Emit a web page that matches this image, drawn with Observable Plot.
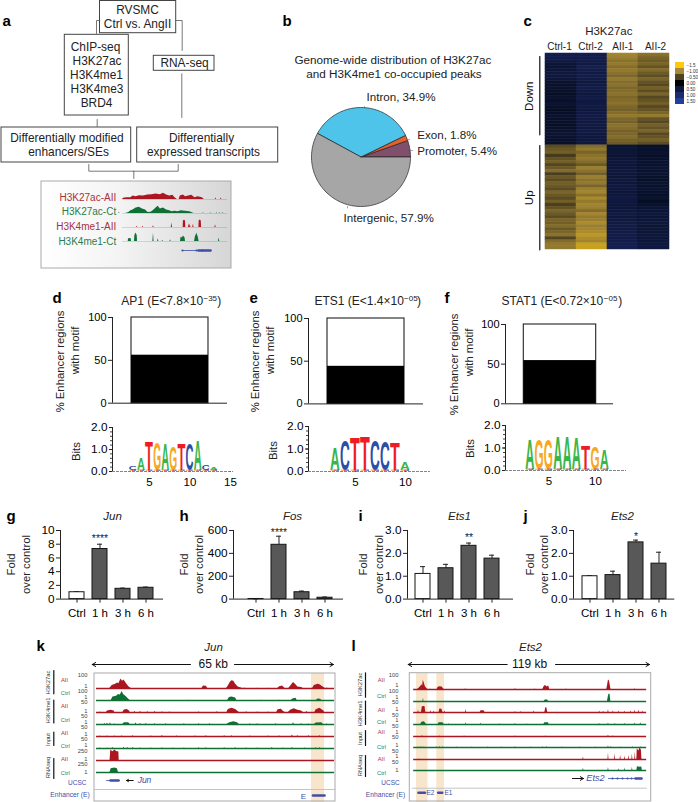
<!DOCTYPE html>
<html><head><meta charset="utf-8">
<script src="https://cdn.jsdelivr.net/npm/d3@7"></script>
<script src="https://cdn.jsdelivr.net/npm/@observablehq/plot@0.6"></script>
<style>
html,body{margin:0;padding:0;background:#fff}
#root{position:relative;width:698px;height:802px;overflow:hidden;font-family:"Liberation Sans",Arial,sans-serif}
#root svg{position:absolute;overflow:visible;background:transparent}
#grayBox{position:absolute;left:41px;top:181px;width:190px;height:87px;background:linear-gradient(90deg,#fff 0%,#f4f4f4 40%,#d6d6d6 100%)}
</style></head><body><div id="root"><div id="grayBox"></div></div>
<script>
// ---------- panel b
const pieNames = ["Promoter","Exon","Intron","Intergenic"];
const pieValues = [5.4,1.8,34.9,57.9];
const pieColors = ["#7f4f6b","#e4622f","#4fc4ea","#a6a6a6"];
// ---------- panel c
const heatCols = ["Ctrl-1","Ctrl-2","AII-1","AII-2"];
const ctrl1 = [.85,.8,.75,.55,.48,.52,.64,.6,.55,.44,.4,.44,.4,.36,.44,.4,.48,.4,.36,.4,.44,.4,.4,.36,.4,.44,.48,.44,.4,.4,
 -.6,-.7,-.75,-.45,-.65,-.75,-.55,-.7,-.85,-.5,-.7,-.6,-.75,-.7,-.6,-.8,-.7,-.6,-.75,-.5,-.65,-.8,-.7,-.6,-.8,-.75,-.85,-.7,-.8,-.9,-.55,-.85,-.95,-.95];
const ctrl2 = [.85,.82,.78,.68,.85,.76,.68,.76,.72,.64,.68,.76,.68,.64,.72,.68,.68,.72,.64,.68,.72,.68,.64,.68,.64,.68,.64,.64,.6,.64,
 -.85,-.95,-.8,-.9,-.95,-.85,-.7,-1,-.9,-.75,-1,-.9,-.95,-.8,-1,-1.05,-.9,-1.1,-.95,-1.05,-1,-.85,-1.05,-.95,-1,-1.1,-1,-1.05,-1.1,-1.2,-1.1,-1.05,-1.27,-1.27];
const aii1 = [-1.05,-1,-.9,-.95,-.86,-.95,-.9,-.81,-.95,-.86,-.9,-.81,-.86,-.9,-.81,-.86,-.9,-.81,-.77,-.86,-.95,-.81,-.77,-.9,-.86,-.77,-.81,-.86,-.77,-.72,
 .48,.52,.56,.48,.56,.6,.52,.56,.6,.56,.52,.6,.56,.64,.6,.56,.64,.68,.64,.6,.56,.64,.68,.6,.64,.68,.72,.68,.72,.76,.72,.8,.85,.85];
const aii2 = [-.9,-.8,-.72,-.8,-.66,-.85,-.72,-.62,-.8,-.66,-.58,-.76,-.62,-.8,-.58,-.66,-.76,-.58,-.66,-.8,-.95,-.66,-.58,-.76,-.66,-.8,-.58,-.66,-.76,-.62,
 .38,.42,.47,.38,.42,.47,.42,.47,.42,.47,.42,.38,.47,.42,.47,.42,.38,.47,.34,.42,.5,.55,.6,.5,.55,.6,.5,.55,.5,.6,.55,.6,.64,.64];
const heatStops = [-1.5,-1,-.5,0,.5,1,1.5];
const heatColors = ["#ffc90e","#a68a35","#4f4320","#000000","#0e1a42","#1f2b69","#22409a"];
const cellColors = ["#f0bd10","#9a7f30","#4a3e1e","#000000","#0b1534","#19235a","#22409a"];
const heatLabels = ["−1.5","−1.00","−0.50","0.00","0.50","1.00","1.50"];
// ---------- panels d e f
const motifShare = {ap1:56, ets1:44, stat1:54.5};
// each motif: [position, letter, bits]
const ap1Logo = [[3,"C",.17],[4,"A",.55],[5,"T",1.3],[6,"G",1.25],[7,"A",1.2],[8,"G",1.05],[9,"T",1.15],[10,"C",1.2],[11,"A",1.35],[12,"C",.22],[13,"A",.1]];
const ets1Logo = [[3,"A",.95],[4,"C",1.35],[5,"T",1.45],[6,"T",1.5],[7,"C",1.3],[8,"C",1.25],[9,"T",1.2],[10,"A",.35]];
const stat1Logo = [[3,"A",1.3],[4,"G",1.35],[5,"G",1.3],[6,"A",1.45],[7,"A",1.45],[8,"A",1.4],[9,"T",1.05],[10,"G",.95],[11,"A",.85]];
const letterColor = {A:"#39b54a",C:"#2b4ea6",G:"#f7a823",T:"#ee1c25"};
// ---------- panels g h i j
const times = ["Ctrl","1 h","3 h","6 h"];
const junVals = [1,7.3,1.5,1.65], junHi = [1.1,8,1.6,1.75];
const fosVals = [1,475,60,12], fosHi = [2,550,70,18];
const ets1Vals = [1.1,1.35,2.33,1.77], ets1Hi = [1.42,1.52,2.45,1.92];
const ets2Vals = [1,1.05,2.48,1.55], ets2Hi = [1.03,1.22,2.58,2.05];
// ---------- browser tracks: broad peaks are [pos,signal] outlines, spikes are [pos,signal]
const red="#ab1620", green="#0f7036";
const aTracks = [
 {c:red, peaks:[[[0,0],[1,10],[4,14],[8,14],[10,30],[13,22],[16,32],[20,30],[24,38],[28,40],[32,45],[36,40],[39,52],[42,38],[45,30],[48,36],[50,14],[52,3]],[[54,0],[55,30],[58,38],[60,22],[63,30],[66,36],[69,14],[72,22],[76,14],[78,0]]], spikes:[[89,14],[94,14]]},
 {c:green, peaks:[[[3,0],[6,8],[8,22],[10,30],[13,45],[16,52],[19,38],[22,30],[24,11],[26,8],[28,15],[30,30],[32,45],[34,60],[36,38],[39,45],[42,30],[45,22],[47,15],[50,18],[53,15],[56,22],[60,18],[64,15],[66,8],[68,0]]], spikes:[[-3,8],[77,7],[84,7],[90,7],[93,7],[96,7]]},
 {c:red, peaks:[[[57.8,0],[58,55],[59,60],[60,55],[60.3,0]],[[72.8,0],[73,55],[74,62],[75,55],[75.3,0]]], spikes:[[14,10],[19.5,10],[29.5,15],[47,38],[63.5,30],[64.5,30],[67.5,28],[88.6,22]]},
 {c:green, peaks:[[[5.4,0],[5.8,22],[8.2,24],[8.6,0]],[[11.4,0],[11.8,50],[12.8,70],[14,50],[14.3,0]],[[55.2,0],[55.8,35],[57,30],[58,45],[59.6,30],[60,0]],[[68.6,0],[69.5,40],[70.8,68],[72,40],[73,0]]], spikes:[[29.5,68],[34,22],[38.3,10],[45.8,14],[92,30]]}
];
const kPeaks = [
 {c:red, peaks:[[[3.6,0],[4.3,25],[5.2,35],[5.8,45],[6.1,40],[6.7,80],[7.1,60],[7.5,70],[8.2,40],[8.9,12],[9.5,0]],[[28.8,0],[29.2,20],[30,18],[30.4,0]],[[35.5,0],[36,20],[36.6,55],[37,65],[37.5,60],[38,35],[38.7,12],[39.5,5],[40,0]],[[49.5,0],[50,15],[50.8,20],[51.5,0]],[[52.5,0],[53,18],[53.8,50],[54.2,40],[55,12],[56,8],[56.5,0]],[[59,0],[59.5,25],[60.5,35],[61,32],[62,10],[62.5,0]]], spikes:[[40.5,4],[44,3],[47,3],[63,4]]},
 {c:green, peaks:[[[4,0],[4.5,30],[5.5,35],[6,50],[6.5,45],[7,75],[7.4,50],[8,35],[8.8,10],[9.2,0]],[[35.8,0],[36.3,25],[37,30],[38,20],[38.3,0]],[[53.2,0],[53.6,12],[54.5,18],[54.8,0]],[[60,0],[60.5,12],[61.2,10],[61.5,0]]], spikes:[[50,3],[45,3],[25,2]]},
 {c:red, peaks:[[[2.7,0],[3,12],[4,18],[4.8,12],[5,0]],[[7.2,0],[7.6,20],[8.4,25],[9,12],[9.2,0]],[[35.6,0],[36,25],[37,35],[38,25],[38.6,10],[39,0]],[[49.2,0],[49.6,22],[50.5,28],[51,10],[51.5,0]],[[52.4,0],[53,18],[54,32],[55,18],[56,12],[56.5,0]],[[59.6,0],[60,22],[61,35],[62,15],[62.3,0]]], spikes:[[1,5],[10.5,8],[12,8],[14,6],[16,8],[18,6],[20,5],[28,5],[33,7],[41,6],[44,5],[47,5],[57.5,8]]},
 {c:green, peaks:[[[35.6,0],[36.4,15],[37.5,22],[38.5,14],[39,0]],[[7.2,0],[7.6,14],[8.8,14],[9.2,0]],[[59.5,0],[60,12],[61.5,14],[62,0]]], spikes:[[2.3,8],[3,12],[3.8,14],[5,5],[10.8,14],[12,8],[13.6,8],[16,6],[19,6],[24,7],[28,6],[31,6],[42,7],[44,6],[49,6],[53.8,16],[56,6],[58,5],[63,5]]},
 {c:red, peaks:[], spikes:[[1,4],[3,5],[5,4],[7,5],[10,6],[15,4],[18,8],[22,4],[27,5],[30,7],[35,6],[37,7],[42,4],[47,5],[50,5],[53.5,12],[55,6],[58,6],[61,6]]},
 {c:green, peaks:[], spikes:[[1,4],[3,5],[4.5,8],[7.5,10],[8.5,8],[10,9],[12,4],[15,5],[18,7],[21,4],[24,5],[28,6],[30,7],[35,6],[38,7],[41,4],[44,5],[48,9],[51,5],[53.5,8],[57,4],[60,7],[61,6]]},
 {c:red, peaks:[[[3.7,0],[3.9,85],[4.5,72],[5,88],[5.6,72],[6.1,72],[6.2,0]]], spikes:[]},
 {c:green, peaks:[[[3.7,0],[4,32],[5,38],[5.7,32],[6,0]]], spikes:[]}
];
const lPeaks = [
 {c:red, peaks:[[[2,0],[3,15],[3.8,30],[4.2,40],[4.6,30],[4.9,78],[5.3,60],[6,22],[7,5],[7.3,0]],[[12,0],[12.5,18],[13.5,22],[14.5,20],[15.6,0]],[[66,0],[66.5,20],[67.4,35],[68,20],[69,30],[69.5,0]],[[98.6,0],[99,30],[99.5,80],[100,70],[100.8,0]]], spikes:[[8.5,5],[26.5,6],[52,8],[113,6],[62,3],[78,3]]},
 {c:green, peaks:[[[66.6,0],[67.2,12],[68.4,12],[69,0]],[[99,0],[99.3,30],[99.7,60],[100.3,60],[100.7,0]]], spikes:[[5,30]]},
 {c:red, peaks:[[[4,0],[4.4,45],[5,50],[5.8,50],[6.2,0]],[[13,0],[13.4,30],[14.4,28],[15,0]],[[34,0],[34.4,14],[36,14],[36.4,0]],[[67,0],[67.5,40],[68,40],[68.5,0]]], spikes:[[2.5,20],[8.8,16],[10.5,12],[16,14],[26.7,26],[52,9],[55,8],[61.5,12],[95,12],[97,10],[99.5,22],[102,15],[105,12],[108,10],[111,12],[113,20],[115,20],[117,12]]},
 {c:green, peaks:[[[3.6,0],[4.2,18],[5.5,22],[6.6,0]],[[12.5,0],[13,14],[15,14],[15.6,0]],[[66.5,0],[67,15],[68.8,15],[69.2,0]]], spikes:[[18,6],[26.7,14],[34.5,12],[44,6],[52,8],[58,5],[95,8],[99.5,12],[103,8],[108,9],[113,12],[116,14]]},
 {c:red, peaks:[], spikes:[[4.5,8],[13.5,5],[26,4],[52,4],[67.5,4],[99.5,12],[102,7]]},
 {c:green, peaks:[], spikes:[[2.5,7],[4,8],[5.5,7],[12,7],[13.5,8],[15,6],[22,5],[30,5],[38,5],[45,4],[52,6],[60,4],[66,7],[68,8],[76,5],[85,5],[93,5],[99.5,14],[101,8],[106,5],[112,6],[116,7]]},
 {c:red, peaks:[[[114,0],[114.2,90],[115,70],[115.6,95],[116.3,80],[116.6,0]]], spikes:[[3,4],[86.7,20],[99.5,55],[102.9,48],[105.7,35],[108,30],[110,35],[111.7,45],[113.2,62]]},
 {c:green, peaks:[[[114,0],[114.3,32],[115.5,28],[116.5,30],[116.8,0]]], spikes:[[86.7,20],[99.5,25],[104.9,14],[108,20],[111.7,26]]}
];
const kEnhancers = [[58.7,62.3]], lEnhancers = [[1.5,7.4],[11.9,15.8]];

const root = document.getElementById("root");
function mount(frame, opts, m={}){
  const ml=m.l??0, mr=m.r??0, mt=m.t??0, mb=m.b??0;
  const svg = Plot.plot({width:frame.x1-frame.x0+ml+mr, height:frame.y1-frame.y0+mt+mb,
    marginLeft:ml,marginRight:mr,marginTop:mt,marginBottom:mb,
    style:{fontFamily:'"Liberation Sans",Arial,sans-serif',background:"transparent",overflow:"visible"},...opts});
  svg.style.left=(frame.x0-ml)+"px"; svg.style.top=(frame.y0-mt)+"px";
  root.appendChild(svg);
  return svg;
}
function vline(x0,y0,y1){
  mount({x0,x1:x0+1,y0,y1},{x:{domain:[0,1],axis:null},y:{domain:[0,1],axis:null},
    marks:[Plot.ruleX([0],{stroke:"#222",strokeWidth:1})]});
}
function trackRows(t,w){
  const rows=[]; let seg=0;
  t.peaks.forEach(p=>{seg++; p.forEach(d=>rows.push({x:d[0],y:d[1],seg}))});
  t.spikes.forEach(s=>{seg++; [[s[0]-w,0],[s[0],s[1]],[s[0]+w,0]].forEach(d=>rows.push({x:d[0],y:d[1],seg}))});
  return rows;
}
function tracks(list,x0,x1,bases,domain,w,sw,ph,baseOpacity){
  list.forEach((t,i)=>mount({x0,x1,y0:bases[i]-ph,y1:bases[i]},{
    x:{domain,axis:null},y:{domain:[0,100],axis:null},
    marks:[Plot.areaY(trackRows(t,w),{x:"x",y:"y",z:"seg",fill:t.c}),
           Plot.ruleY([0],{stroke:t.c,strokeWidth:sw,strokeOpacity:baseOpacity})]}));
}
// backdrops (under tracks)
mount({x0:96,x1:334,y0:673,y1:802},{x:{domain:[0,65],axis:null},y:{domain:[0,1],axis:null},
  marks:[Plot.rect(kEnhancers,{x1:d=>d[0],x2:d=>d[1],y1:0,y2:1,fill:"#f8e6cc"})]});
mount({x0:412.7,x1:646,y0:673,y1:802},{x:{domain:[0,119],axis:null},y:{domain:[0,1],axis:null},
  marks:[Plot.rect(lEnhancers,{x1:d=>d[0],x2:d=>d[1],y1:0,y2:1,fill:"#f8e6cc"})]});
// panel a tracks
tracks(aTracks,121.7,226.7,[198.6,212.9,227.3,240.9],[0,100],.6,.6,12,.3);
// panels k, l tracks
tracks(kPeaks,96,334,[687.5,699.5,711.5,723.5,735.5,747.5,759.5,771.5],[0,65],.2,1.3,12,1);
tracks(lPeaks,412.7,646,[689,700.5,712,723.5,735.5,747,758.5,770],[0,119],.25,1.3,12,1);

// panel b: pie through Plot scales
{
  const pie = d3.pie().sort(null).startAngle(0).endAngle(2*Math.PI)(pieValues);
  const rows=[];
  pie.forEach((s,i)=>{
    const n=Math.max(2,Math.ceil((s.endAngle-s.startAngle)/0.03));
    rows.push({name:pieNames[i],x:0,y:0});
    for(let k=0;k<=n;k++){const a=s.startAngle+(s.endAngle-s.startAngle)*k/n; rows.push({name:pieNames[i],x:Math.cos(a),y:Math.sin(a)});}
    rows.push({name:pieNames[i],x:0,y:0});
  });
  mount({x0:311.2,x1:410.2,y0:107.2,y1:206.2},{
    x:{domain:[-1,1],axis:null},y:{domain:[-1,1],axis:null},
    color:{domain:pieNames,range:pieColors},
    marks:[Plot.line(rows,{x:"x",y:"y",z:"name",fill:"name",stroke:"#222",strokeWidth:.7,curve:"linear"})]});
}
// panel c: heat map
{
  const cols=[ctrl1,ctrl2,aii1,aii2];
  const rows=[]; cols.forEach((c,j)=>c.forEach((v,r)=>rows.push({col:heatCols[j],row:r,v})));
  mount({x0:545,x1:669.3,y0:53.3,y1:249.3},{
    x:{domain:heatCols,axis:null,padding:0},y:{domain:d3.range(ctrl1.length),axis:null,padding:0,round:false},
    color:{type:"linear",domain:heatStops,range:cellColors,clamp:true},
    marks:[Plot.cell(rows,{x:"col",y:"row",fill:"v",stroke:"v",strokeWidth:.5})]});
  mount({x0:675,x1:684,y0:61.7,y1:104.3},{
    x:{domain:[0,1],axis:null},y:{domain:heatLabels,axis:null,padding:0},
    color:{domain:heatLabels,range:heatColors},
    marks:[Plot.cell(heatLabels,{y:d=>d,fill:d=>d}),
           Plot.text(heatLabels,{y:d=>d,text:d=>d,frameAnchor:"right",textAnchor:"start",dx:2,fontSize:4.6,fill:"#333"})]});
}
// panels d,e,f
function motifBar(x0,x1,y0,y1,b0,b1,share){
  mount({x0,x1,y0,y1},{
    x:{domain:[0,1],range:[b0-x0+30,b1-x0+30],axis:null},y:{domain:[0,100],axis:null},
    marks:[Plot.rect([0],{x1:()=>0,x2:()=>1,y1:()=>0,y2:()=>100,fill:"#fff",stroke:"#222",strokeWidth:1.1}),
      Plot.rect([0],{x1:()=>0,x2:()=>1,y1:()=>0,y2:()=>share,fill:"#000"}),
      Plot.ruleY([0],{stroke:"#222",strokeWidth:1}),
      Plot.axisY({ticks:[0,50,100],tickSize:4,tickPadding:2,fontSize:11,label:null,stroke:"#222"})
    ]},{l:30,b:2,t:6});
  vline(x0,y0,y1);
}
function logo(x0,x1,y0,y1,xDomain,xTicks,letters){
  const mark=(I,scales)=>{
    const g=d3.create("svg:g").attr("font-weight","bold").attr("font-size",10).attr("text-anchor","middle");
    const step=Math.abs(scales.x(2)-scales.x(1));
    const wEm={A:.722,C:.722,G:.778,T:.611};
    letters.forEach(([p,l,h])=>{
      const sy=(scales.y(0)-scales.y(h))/7.0, sx=step*.98/(wEm[l]*10);
      g.append("text").attr("transform",`translate(${scales.x(p)},${scales.y(0.06)}) scale(${sx},${sy})`).attr("fill",letterColor[l]).text(l);
    });
    // low-information letters along the baseline, seen as coloured flecks
    letters.forEach(([p])=>{
      ["G","T","C"].forEach((l,k)=>{
        g.append("rect").attr("x",scales.x(p)+(k-1.5)*step*.28).attr("width",step*.26)
         .attr("y",scales.y(0.07)).attr("height",scales.y(0)-scales.y(0.07)).attr("fill",letterColor[l]).attr("opacity",.7);
      });
    });
    return g.node();
  };
  mount({x0,x1,y0,y1},{
    x:{domain:xDomain,axis:null},y:{domain:[0,2],axis:null},
    marks:[Plot.ruleY([0],{stroke:"#666",strokeWidth:.8,strokeDasharray:"3 1"}),
      Plot.axisY({ticks:d3.range(0,2.01,.2),tickSize:2,tickFormat:()=>"",stroke:"#444",label:null}),
      Plot.axisY({ticks:[0,1,2],tickSize:3,tickPadding:2,tickFormat:".1f",fontSize:11.8,label:null,stroke:"#222"}),
      Plot.axisX({ticks:xTicks,tickSize:1,tickPadding:5,fontSize:11.5,label:null,stroke:"#555",anchor:"bottom"}),
      mark]},{l:30,b:18,t:3});
  vline(x0,y0,y1);
}
motifBar(112,227,317.3,403,131,208,motifShare.ap1);
motifBar(308,423,317.6,403,327,404,motifShare.ets1);
motifBar(505,613,324,403.3,523.3,595.7,motifShare.stat1);
// x domains chosen so ticks land where the reference draws them
logo(112,233,426.7,470.7,[.43,15.37],[5,10,15],ap1Logo);
logo(308,430,425.7,470.7,[.3,12.5],[5,10],ets1Logo);
logo(505,626,425,470,[.34,13.33],[5,10],stat1Logo);

// panels g-j
function foldBars(x0,x1,c0,step,maxY,ticks,vals,hi,star,starY){
  const rows=times.map((t,i)=>({t,v:vals[i],hi:hi[i],ctrl:i===0}));
  mount({x0,x1,y0:529.7,y1:598.3},{
    x:{domain:times,range:[c0-step/2-x0+34,c0-step/2-x0+34+4*step],padding:.33,axis:null},
    y:{domain:[0,maxY],axis:null},
    marks:[
      Plot.ruleY([0],{stroke:"#222",strokeWidth:1}),
      Plot.ruleX(rows,{x:"t",y1:"v",y2:"hi",stroke:"#222",strokeWidth:1}),
      Plot.tickY(rows,{x:"t",y:"hi",stroke:"#222",strokeWidth:1,insetLeft:5,insetRight:5}),
      Plot.barY(rows,{x:"t",y:"v",fill:d=>d.ctrl?"#fff":"#585858",stroke:"#151515",strokeWidth:1}),
      Plot.axisY({ticks,tickSize:4,tickPadding:2,fontSize:11.8,label:null,stroke:"#222"}),
      Plot.axisX({tickSize:4,tickPadding:6,fontSize:11.5,label:null,stroke:"#222"}),
      Plot.text([star],{x:d=>times[d.i],y:()=>starY,text:d=>d.s,fontSize:10.5,fill:"#222",dy:3})
    ]},{l:34,b:24,t:6});
  vline(x0,529.7,598.3);
}
foldBars(60,163,72.9,25.75,10,[0,2,4,6,8,10],junVals,junHi,{i:1,s:"****"},9.2);
foldBars(233.3,343.3,252.3,25.55,600,[0,200,400,600],fosVals,fosHi,{i:1,s:"****"},610);
foldBars(407.3,513.3,419.3,25.8,3,[0,1,2,3],ets1Vals,ets1Hi,{i:2,s:"**"},2.8);
foldBars(572.7,674,585,25.7,3,[0,1,2,3],ets2Vals,ets2Hi,{i:2,s:"*"},2.87);

// ---------- overlay: panel letters, schematic, texts
const boxes=[[99.5,0.5,175.7,32.7],[64.3,34.3,128.3,115],[153.3,55.3,214,70.3],[1,127,130.7,162],[136.7,127,277.7,162]];
const connectors=[
 [[99.3,20],[96,20],[96,33]],[[175.7,20],[181.7,20],[181.7,50]],[[181.3,73.3],[181.3,117]],[[96.7,119],[96.7,126]],
 [[88.3,164],[88.3,170.7],[177.7,170.7],[177.7,164]],[[133.3,170.7],[133.3,178]]];
const flowText=[["RVSMC",137,9.5],["Ctrl vs. AngII",137,23.7],["ChIP-seq",95,47],["H3K27ac",96.5,61],["H3K4me1",96,75],["H3K4me3",96.5,89],["BRD4",96,103],
 ["RNA-seq",184,63],["Differentially modified",66.5,137.5],["enhancers/SEs",68,151.7],["Differentially",201,137.5],["expressed transcripts",203,151.7]];
const pieTitle=[["Genome-wide distribution of H3K27ac",392.3,60],["and H3K4me1 co-occupied peaks",393.5,74]];
const heatTitle=[["H3K27ac",608.3,30.7]];
const heatHead=[["Ctrl-1",559,46.7],["Ctrl-2",590,46.7],["AII-1",622.3,46.7],["AII-2",655,46.7]];
const spans=[["65 kb",212.7,664],["119 kb",529,664]];
const pieText=[["Intron, 34.9%",366,96.7],["Exon, 1.8%",416.7,134.7],["Promoter, 5.4%",416.7,150.7],["Intergenic, 57.9%",343,218]];
const letters=[["a",2,22],["b",282,22],["c",523,22],["d",52,299],["e",249,299],["f",444,299],["g",6,517],["h",179,517],["i",358,517],["j",523,517],["k",36,647],["l",351,647]];
const aLabels=[["H3K27ac-AII",115.7,197,"#a8323a"],["H3K27ac-Ct",115.7,211.7,"#2a7d4e"],["H3K4me1-AII",115.7,226.7,"#a8323a"],["H3K4me1-Ct",115.7,241,"#2a7d4e"]];
const rotated=[["% Enhancer regions",60,361],["with motif",75,350],["% Enhancer regions",255,361],["with motif",270,350],["% Enhancer regions",454,364],["with motif",469,352],
 ["Bits",76,451],["Bits",272.5,450],["Bits",470,448],
 ["Fold",11,564],["over control",26,564],["Fold",184,564],["over control",199,564],["Fold",363,564],["over control",379,564],["Fold",530,564],["over control",544,564]];
const rotatedLarge=[["Down",529,95.7],["Up",529,197.3]];
const italics=[["Jun",112,516],["Fos",292,516],["Ets1",459,516],["Ets2",622,516],["Jun",213,647],["Ets2",530,647]];
const superTitles=[["AP1 (E<7.8×10",202.7,301],["ETS1 (E<1.4×10",403.3,301],["STAT1 (E<0.72×10",602.7,301]];
const superNums=[["−35",203,298],["−05",403.6,298],["−05",603.3,298]];
const closeParens=[[")",216.8,301],[")",416.5,301],[")",617.8,301]];
const blackLines=[[[539.3,56],[539.3,134.3]],[[539.3,145],[539.3,249.3]],
 [[53.3,670],[53.3,693.3]],[[53.3,699.5],[53.3,722.5]],[[53.3,731.5],[53.3,745]],[[53.3,758],[53.3,778]],
 [[365,672.3],[365,696.7]],[[365,700.7],[365,724]],[[365,730],[365,745]],[[365,755],[365,776]]];
const pieTicks=[[[364,106],[364,107.5]],[[409,139],[407,139.5]],[[412,150],[410,150]],[[347,207.5],[347,206]]];
const arrows=[[190,664,91.7,664],[234,664,333,664],[506.7,664,407.7,664],[555,664,649,664],[132.7,780,126,780],[572,778,583,778]];
const frames=[[94,673,335,801],[409.3,672.7,650.7,801],[41,181,231,268]];
const dividers=[[[94,789],[335,789]],[[412,787.7],[646,787.7]]];
const blue="#3f4ea8";
const geneThin=[[[106,780],[119,780]],[[181.7,250],[210,250]],[[608,778],[641,778]]];
const geneThick=[[[110,780],[118,780]],[[312.5,795],[324,795]],[[418,792.3],[424.5,792.3]],[[437.7,792.3],[441.7,792.3]],[[198,250],[210,250]],[[635,778],[641,778]]];
const geneExons=[[182,250],[196,250],[202,250],[612,778],[617,778],[622,778],[627,778],[631,778]];
const blueLabels=[["UCSC",76.7,782.3,6.5],["Enhancer (E)",69.5,794,6.7],["E",303,796,8],
 ["UCSC",390,782.3,6.5],["Enhancer (E)",385,794,6.7],["E2",430,792.5,6.5],["E1",448,792.5,6.5]];
const blueItalics=[["Jun",144,780,8.5],["Ets2",595,778,9.2]];
const blockNames=[["H3K27ac",47.7,682],["H3K4me1",47.7,710],["Input",47.7,739],["RNAseq",47.7,767],["H3K27ac",359.3,684],["H3K4me1",359.3,713],["Input",359.3,738],["RNAseq",359.3,765]];
const condK=[["AII",64,679.3],["Ctrl",64.7,692.7],["AII",64,706],["Ctrl",64.7,719.3],["AII",64,732.3],["Ctrl",64.7,745.7],["AII",64,759],["Ctrl",64.7,772.3]];
const condL=[["AII",380.7,679.3],["Ctrl",381,696],["AII",380.7,709.3],["Ctrl",381,721.3],["AII",380.7,732],["Ctrl",381,746.7],["AII",380.7,758.7],["Ctrl",381,772.3]];
const scaleK=[["100",87,675],["1",87,686],["100",87,690.7],["1",87,696.7],["50",87,702],["1",87,710.3],["50",87,716],["1",87,722],["50",87,726.7],["1",87,733.3],["50",87,738.7],["1",87,745],["250",87,751],["1",87,758.3],["250",87,763.3],["1",87,771.7]];
const scaleL=[["100",398,674.3],["1",398,685],["100",398,690.3],["1",398,696.7],["50",398,702],["1",398,708.8],["50",398,715],["1",398,720],["50",398,725.5],["1",398,731.7],["50",398,737],["1",398,745],["50",398,751],["1",398,755.8],["50",398,762],["1",398,770]];
const red2="#b0323a", green2="#2e7d4f";
const txt=(rows,o)=>Plot.text(rows,{x:d=>d[1],y:d=>d[2],text:d=>d[0],lineAnchor:"middle",...o});
const pl=(rows,o)=>rows.map(r=>Plot.line(r,{x:d=>d[0],y:d=>d[1],curve:"linear",...o}));
mount({x0:0,x1:698,y0:0,y1:802},{
  x:{domain:[0,698],axis:null},y:{domain:[0,802],range:[0,802],axis:null},
  marks:[
    Plot.rect(boxes,{x1:d=>d[0],y1:d=>d[1],x2:d=>d[2],y2:d=>d[3],fill:"none",stroke:"#444",strokeWidth:1}),
    ...pl(connectors,{stroke:"#555",strokeWidth:.8}),
    Plot.rect(frames,{x1:d=>d[0],y1:d=>d[1],x2:d=>d[2],y2:d=>d[3],fill:"none",stroke:"#aaa",strokeWidth:1}),
    ...pl(dividers,{stroke:"#c4c4c4",strokeWidth:1}),
    ...pl(blackLines,{stroke:"#111",strokeWidth:1.2}),
    ...pl(pieTicks,{stroke:"#666",strokeWidth:.6}),
    Plot.arrow(arrows,{x1:d=>d[0],y1:d=>d[1],x2:d=>d[2],y2:d=>d[3],stroke:"#111",strokeWidth:1,headLength:6,bend:0}),
    ...pl(geneThin,{stroke:blue,strokeWidth:.8}),
    ...pl(geneThick,{stroke:blue,strokeWidth:2.6}),
    Plot.dot(geneExons,{x:d=>d[0],y:d=>d[1],r:1.1,fill:blue}),
    txt(flowText,{fontSize:11.9,fill:"#222"}),
    txt(pieTitle,{fontSize:11.7,fill:"#222"}),
    txt(heatTitle,{fontSize:11.5,fill:"#222"}),
    txt(heatHead,{fontSize:10,fill:"#222"}),
    txt(spans,{fontSize:12,fill:"#111"}),
    txt(pieText,{fontSize:11.6,fill:"#222",textAnchor:"start"}),
    txt(letters,{fontSize:15,fontWeight:"bold",fill:"#000",textAnchor:"start",lineAnchor:"bottom",dy:3}),
    ...aLabels.map(a=>txt([a],{fontSize:10,fill:a[3],textAnchor:"end"})),
    txt(rotated,{fontSize:11.3,fill:"#222",rotate:-90}),
    txt(rotatedLarge,{fontSize:11.5,fill:"#111",rotate:-90}),
    txt(italics,{fontSize:11.5,fontStyle:"italic",fill:"#222"}),
    txt(superTitles,{fontSize:12,fill:"#222",textAnchor:"end"}),
    txt(superNums,{fontSize:8,fill:"#222",textAnchor:"start"}),
    txt(closeParens,{fontSize:12,fill:"#222",textAnchor:"start"}),
    ...blueLabels.map(a=>txt([a],{fontSize:a[3],fill:blue})),
    ...blueItalics.map(a=>txt([a],{fontSize:a[3],fontStyle:"italic",fill:blue})),
    txt(blockNames,{fontSize:5.8,fill:"#333",rotate:-90}),
    ...[...condK,...condL].map(a=>txt([a],{fontSize:5.8,fill:a[0]==="AII"?red2:green2})),
    txt(scaleK,{fontSize:5.8,fill:"#444",textAnchor:"end"}),
    txt(scaleL,{fontSize:5.8,fill:"#444",textAnchor:"end"})
  ]});
</script></body></html>
